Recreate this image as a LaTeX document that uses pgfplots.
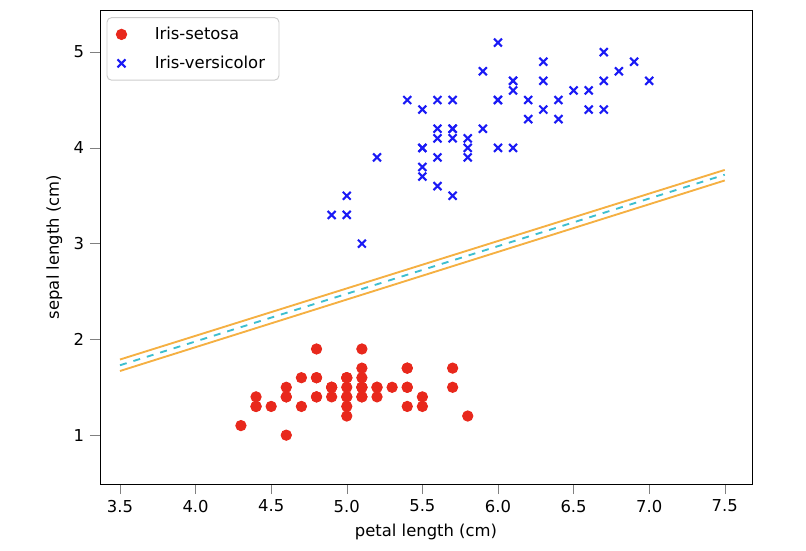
\documentclass[border=0pt]{standalone}
\usepackage{pgfplots}
\pgfplotsset{compat=1.18}
\usepackage{fontspec}
\setmainfont{DejaVu Sans}
\definecolor{sred}{HTML}{E8281C}
\definecolor{vblue}{HTML}{1A1AF5}
\definecolor{lorange}{HTML}{F5B042}
\definecolor{lcyan}{HTML}{3EBFCF}
\begin{document}
\fontsize{7}{8.4}\selectfont
\begin{tikzpicture}
\begin{axis}[
  scale only axis, width=9.78cm, height=7.11cm,
  xmin=3.368, xmax=7.68, ymin=0.49, ymax=5.44,
  xtick={3.5,4,...,7.5}, ytick={1,2,3,4,5},
  xticklabel style={/pgf/number format/.cd,fixed,fixed zerofill,precision=1},
  /pgf/number format/assume math mode=true,
  tick label style={font=\fontsize{7}{8.4}\selectfont},
  label style={font=\fontsize{7}{8.4}\selectfont},
  tick align=outside, tick pos=left,
  xlabel={petal length (cm)}, ylabel={sepal length (cm)},
  legend style={at={(0.01,0.985)}, anchor=north west, font=\fontsize{7}{8.4}\selectfont, rounded corners=2pt, draw=black!20, row sep=2pt, inner xsep=4pt},
  legend cell align=left,
  legend image post style={xshift=4pt},
]
\addplot[only marks, mark=*, mark size=2.2pt, color=sred] coordinates {
(5.1,1.4)(4.9,1.4)(4.7,1.3)(4.6,1.5)(5.0,1.4)(5.4,1.7)(4.6,1.4)(5.0,1.5)(4.4,1.4)(4.9,1.5)
(5.4,1.5)(4.8,1.6)(4.8,1.4)(4.3,1.1)(5.8,1.2)(5.7,1.5)(5.4,1.3)(5.1,1.4)(5.7,1.7)(5.1,1.5)
(5.4,1.7)(5.1,1.5)(4.6,1.0)(5.1,1.7)(4.8,1.9)(5.0,1.6)(5.0,1.6)(5.2,1.5)(5.2,1.4)(4.7,1.6)
(4.8,1.6)(5.4,1.5)(5.2,1.5)(5.5,1.4)(4.9,1.5)(5.0,1.2)(5.5,1.3)(4.9,1.5)(4.4,1.3)(5.1,1.5)
(5.0,1.3)(4.5,1.3)(4.4,1.3)(5.0,1.6)(5.1,1.9)(4.8,1.4)(5.1,1.6)(4.6,1.4)(5.3,1.5)(5.0,1.4)};
\addlegendentry{\hspace{10pt}Iris-setosa}
\addplot[only marks, mark=x, mark size=2.4pt, line width=0.9pt, color=vblue] coordinates {
(7.0,4.7)(6.4,4.5)(6.9,4.9)(5.5,4.0)(6.5,4.6)(5.7,4.5)(6.3,4.7)(4.9,3.3)(6.6,4.6)(5.2,3.9)
(5.0,3.5)(5.9,4.2)(6.0,4.0)(6.1,4.7)(5.6,3.6)(6.7,4.4)(5.6,4.5)(5.8,4.1)(6.2,4.5)(5.6,3.9)
(5.9,4.8)(6.1,4.0)(6.3,4.9)(6.1,4.7)(6.4,4.3)(6.6,4.4)(6.8,4.8)(6.7,5.0)(6.0,4.5)(5.7,3.5)
(5.5,3.8)(5.5,3.7)(5.8,3.9)(6.0,5.1)(5.4,4.5)(6.0,4.5)(6.7,4.7)(6.3,4.4)(5.6,4.1)(5.5,4.0)
(5.5,4.4)(6.1,4.6)(5.8,4.0)(5.0,3.3)(5.6,4.2)(5.7,4.2)(5.7,4.2)(6.2,4.3)(5.1,3.0)(5.7,4.1)};
\addlegendentry{\hspace{10pt}Iris-versicolor}
\addplot[lorange, line width=0.8pt, forget plot] coordinates {(3.5,1.79)(7.5,3.77)};
\addplot[lorange, line width=0.8pt, forget plot] coordinates {(3.5,1.67)(7.5,3.66)};
\addplot[lcyan, dashed, line width=0.8pt, forget plot] coordinates {(3.5,1.73)(7.5,3.72)};
\end{axis}
\useasboundingbox (-1.5cm,-0.99cm) rectangle (10.59cm,7.26cm);
\end{tikzpicture}
\end{document}
